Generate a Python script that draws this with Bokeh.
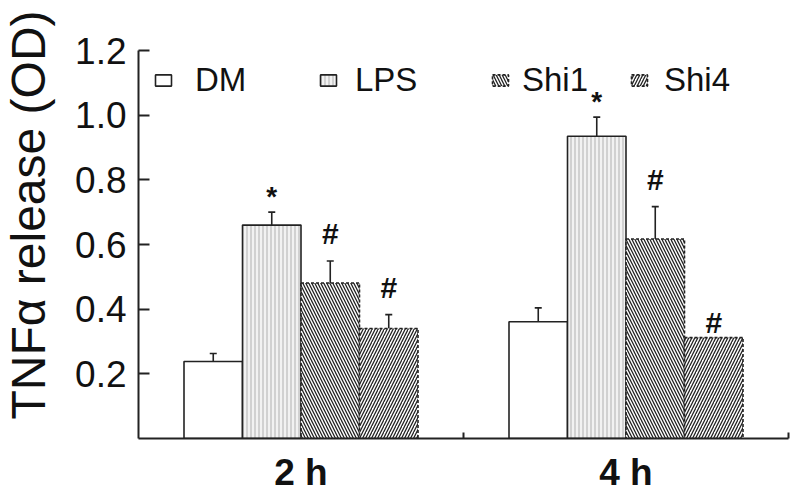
import numpy as np
from bokeh.plotting import figure
from bokeh.layouts import row
from bokeh.models import (Range1d, FixedTicker, LinearAxis, Whisker, TeeHead, Div,
                          ColumnDataSource, Legend, LegendItem, NumeralTickFormatter)
from bokeh.core.properties import value
from bokeh.embed import file_html
from bokeh.resources import INLINE

# ---- data ----
groups = ["2 h", "4 h"]
series = ["DM", "LPS", "Shi1", "Shi4"]
dm_mean = [0.238, 0.361]
lps_mean = [0.660, 0.935]
shi1_mean = [0.481, 0.617]
shi4_mean = [0.340, 0.312]
dm_err = [0.025, 0.043]
lps_err = [0.040, 0.059]
shi1_err = [0.068, 0.100]
shi4_err = [0.043, 0.0]
dm_mark = ["", ""]
lps_mark = ["*", "*"]
shi1_mark = ["#", "#"]
shi4_mark = ["#", "#"]
y_ticks = [0.2, 0.4, 0.6, 0.8, 1.0, 1.2]
y_label = "TNFα release (OD)"

means = [dm_mean, lps_mean, shi1_mean, shi4_mean]
errs = [dm_err, lps_err, shi1_err, shi4_err]
marks = [dm_mark, lps_mark, shi1_mark, shi4_mark]

# ---- styles / layout ----
FONT = "Liberation Sans"
INK = "#222222"
W, H = 800, 495
LEFT_W = 60            # strip holding the y-axis title
bar_w = 0.18
styles = [
    dict(fill_color="white", hatch_pattern=None, line_dash="solid"),
    dict(fill_color="#f2f2f2", hatch_pattern="vertical_line", hatch_color="#b0b0b0",
         hatch_scale=4, hatch_weight=1, line_dash="solid"),
    dict(fill_color="white", hatch_pattern="left_diagonal_line", hatch_color=INK,
         hatch_scale=6, hatch_weight=1.3, line_dash="3 2"),
    dict(fill_color="white", hatch_pattern="right_diagonal_line", hatch_color=INK,
         hatch_scale=6, hatch_weight=1.3, line_dash="3 2"),
]
legend_x = [15, 180, 352, 491]
legend_standoff = [22, 17, 12, 15]
mark_offset = {"*": -16, "#": -27}
mark_offset_noerr = -15
title_baseline_x = 45
title_center_y = 215

# ---- left strip with the rotated y-axis title (inline SVG text) ----
title_svg = (
    f'<svg xmlns="http://www.w3.org/2000/svg" width="{LEFT_W}" height="{H}" '
    f'style="display:block">'
    f'<text x="{title_baseline_x}" y="{title_center_y}" '
    f'transform="rotate(-90 {title_baseline_x} {title_center_y})" '
    f'text-anchor="middle" font-family="{FONT}" font-size="48px" fill="#111111">'
    f'{y_label}</text></svg>'
)
left = Div(text=title_svg, width=LEFT_W, height=H, margin=0,
           styles={"padding": "0", "margin": "0", "overflow": "visible"})

# ---- main chart ----
p = figure(width=W - LEFT_W, height=H, x_range=Range1d(0, 2), y_range=Range1d(0, 1.2),
           output_backend="svg", toolbar_location=None,
           x_axis_location=None, y_axis_location=None,
           min_border_left=138 - LEFT_W, min_border_right=12,
           min_border_top=50, min_border_bottom=56)
p.grid.visible = False
p.outline_line_color = None
p.background_fill_color = "white"
p.border_fill_color = "white"

yax = LinearAxis(ticker=FixedTicker(ticks=y_ticks),
                 formatter=NumeralTickFormatter(format="0.0"))
yax.major_tick_in = 11
yax.major_tick_out = 0
yax.minor_tick_line_color = None
yax.minor_tick_in = 0
yax.minor_tick_out = 0
yax.axis_line_width = 2
yax.axis_line_color = INK
yax.major_tick_line_width = 2
yax.major_tick_line_color = INK
yax.major_label_text_font = FONT
yax.major_label_text_font_size = "37px"
yax.major_label_text_color = "#111111"
yax.major_label_standoff = 12
p.add_layout(yax, "left")

gx = np.arange(len(groups)) + 0.5
bounds = list(range(1, len(groups) + 1))
xax = LinearAxis(ticker=FixedTicker(ticks=list(gx), minor_ticks=bounds))
xax.major_label_overrides = {float(c): g for c, g in zip(gx, groups)}
xax.major_label_text_font = FONT
xax.major_label_text_font_size = "37px"
xax.major_label_text_font_style = "bold"
xax.major_label_text_color = "#111111"
xax.major_label_standoff = 13
xax.major_tick_line_color = None
xax.major_tick_in = 0
xax.major_tick_out = 0
xax.minor_tick_in = 6
xax.minor_tick_out = 0
xax.minor_tick_line_width = 2
xax.minor_tick_line_color = INK
xax.axis_line_width = 2
xax.axis_line_color = INK
p.add_layout(xax, "below")

offsets = (np.arange(len(series)) - (len(series) - 1) / 2) * bar_w

for i, name in enumerate(series):
    xs = gx + offsets[i]
    top = np.array(means[i])
    err = np.array(errs[i])
    src = ColumnDataSource(dict(x=xs, top=top))
    st = styles[i]
    kw = dict(fill_color=st["fill_color"], line_color=INK, line_width=1.6,
              line_dash=st["line_dash"])
    if st["hatch_pattern"]:
        kw.update(hatch_pattern=st["hatch_pattern"], hatch_color=st["hatch_color"],
                  hatch_scale=st["hatch_scale"], hatch_weight=st["hatch_weight"])
    r = p.vbar(x="x", top="top", width=bar_w, bottom=0, source=src, **kw)

    keep = err > 0
    esrc = ColumnDataSource(dict(x=xs[keep], lo=top[keep], hi=(top + err)[keep]))
    p.add_layout(Whisker(source=esrc, base="x", lower="lo", upper="hi",
                         line_color=INK, line_width=1.6,
                         upper_head=TeeHead(size=7, line_color=INK, line_width=1.6),
                         lower_head=None))

    for j, m in enumerate(marks[i]):
        if not m:
            continue
        off = mark_offset[m] if err[j] > 0 else mark_offset_noerr
        p.text(x=[xs[j]], y=[top[j] + err[j]], text=[m],
               text_align="center", text_baseline="middle", y_offset=off,
               text_font=value(FONT), text_font_size="30px" if m == "#" else "28px",
               text_font_style="bold", text_color="#111111")

    lg = Legend(items=[LegendItem(label=name, renderers=[r])],
                location=(legend_x[i], 339), orientation="horizontal",
                padding=0, margin=0, spacing=0,
                border_line_alpha=0, background_fill_alpha=0,
                glyph_width=20, glyph_height=14, label_standoff=legend_standoff[i],
                label_text_font=FONT, label_text_font_size="33px",
                label_text_color="#111111")
    p.add_layout(lg, "center")

layout = row(left, p, spacing=0)
open("out.html", "w").write(file_html(layout, INLINE))
